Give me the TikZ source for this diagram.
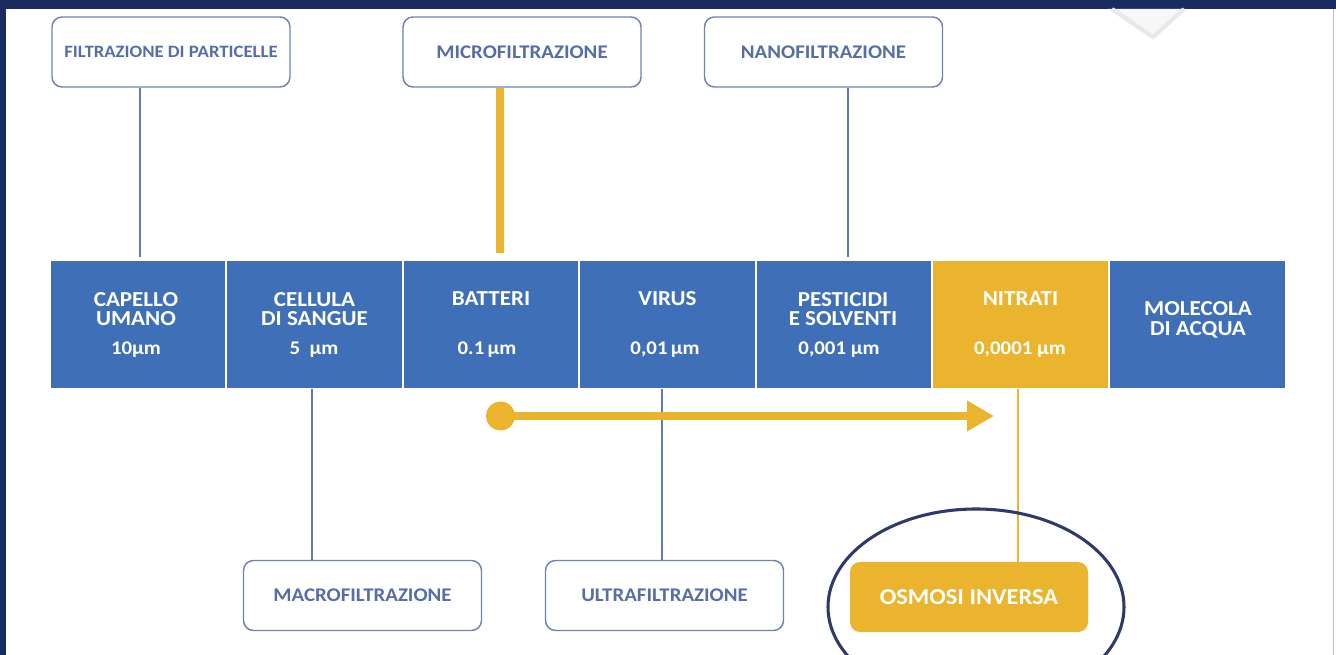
\documentclass[tikz,border=0pt]{standalone}
\usepackage{fontspec}
\newfontfamily\cf[FakeStretch=1.08]{Carlito}
\usetikzlibrary{arrows.meta}
\definecolor{navy}{RGB}{27,43,96}
\definecolor{cellblue}{RGB}{63,111,182}
\definecolor{yel}{RGB}{235,180,46}
\definecolor{bordc}{RGB}{112,130,175}
\definecolor{boxtxt}{RGB}{86,110,168}
\definecolor{linec}{RGB}{95,122,180}
\definecolor{ellc}{RGB}{46,58,110}
\begin{document}
\begin{tikzpicture}[x=0.75pt,y=-0.75pt,
  cell/.style={rectangle, fill=cellblue, inner sep=0pt, minimum width=130.875pt, minimum height=95.25pt},
  ttl/.style={anchor=base, inner sep=0pt, text=white, font=\cf\bfseries\fontsize{16pt}{14.5pt}\selectfont},
  ttltwo/.style={anchor=center, align=center, inner sep=0pt, text=white, font=\cf\bfseries\fontsize{16pt}{14.5pt}\selectfont},
  val/.style={anchor=base, inner sep=0pt, text=white, font=\cf\bfseries\fontsize{14.5pt}{16pt}\selectfont},
  fbox/.style={draw=bordc, line width=1.1pt, rounded corners=7.5pt, fill=white, minimum width=178.5pt, minimum height=52.5pt, inner sep=0pt, text=boxtxt, font=\cf\bfseries\fontsize{14.5pt}{16pt}\selectfont},
  obox/.style={fill=yel, rounded corners=7.5pt, minimum width=178.5pt, minimum height=52.5pt, inner sep=0pt, text=white, font=\cf\bfseries\fontsize{17pt}{19pt}\selectfont},
  conn/.style={draw=linec, line width=1.1pt},
  ycon/.style={draw=yel, line width=6.5pt},
  ythin/.style={draw=yel, line width=1.3pt}
]
\useasboundingbox (0,0) rectangle (1336,655);
\fill[white] (0,0) rectangle (1336,655);
% frame
\fill[navy] (0,0) rectangle (1336,9);
\fill[navy] (0,0) rectangle (6,655);
\draw[bordc!50, line width=0.8pt] (1333.5,9) -- (1333.5,655);
% faint chevron top right
\fill[black!3] (1108,9) -- (1186,9) -- (1153,40) -- cycle;
\draw[black!9, line width=3pt, line join=round] (1112,9) -- (1153,37) -- (1184,9);

% cells
\node[cell] (c1) at (138,325) {};
\node[cell] (c2) at (314.5,325) {};
\node[cell] (c3) at (491,325) {};
\node[cell] (c4) at (667.5,325) {};
\node[cell] (c5) at (844,325) {};
\node[cell, fill=yel] (c6) at (1020.5,325) {};
\node[cell] (c7) at (1197.5,325) {};

% cell texts
\node[ttltwo] (t1) at (136,309) {CAPELLO\\UMANO};
\node[val] (v1) at (136,355) {10µm};
\node[ttltwo] (t2) at (314.5,309) {CELLULA\\DI SANGUE};
\node[val] (v2) at (314,355) {5~~µm};
\node[ttl] (t3) at (491,306) {BATTERI};
\node[val] (v3) at (487,355) {0.1\,µm};
\node[ttl] (t4) at (667.5,306) {VIRUS};
\node[val] (v4) at (665,355) {0,01\,µm};
\node[ttltwo] (t5) at (843,309) {PESTICIDI\\E SOLVENTI};
\node[val] (v5) at (839,355) {0,001 µm};
\node[ttl] (t6) at (1020.5,306) {NITRATI};
\node[val] (v6) at (1020,355) {0,0001 µm};
\node[ttltwo] (t7) at (1198,320) {MOLECOLA\\DI ACQUA};

% boxes
\node[fbox, font=\cf\bfseries\fontsize{13pt}{15pt}\selectfont] (filt) at (171,52) {FILTRAZIONE DI PARTICELLE};
\node[fbox] (micro) at (522,52) {MICROFILTRAZIONE};
\node[fbox] (nano) at (823.5,52) {NANOFILTRAZIONE};
\node[fbox] (macro) at (362.5,595.5) {MACROFILTRAZIONE};
\node[fbox] (ultra) at (664.5,595.5) {ULTRAFILTRAZIONE};
\node[obox] (osm) at (969,597) {OSMOSI INVERSA};

% connectors
\coordinate (k1) at (140,257);
\coordinate (k2) at (312,389);
\coordinate (k3) at (500,253);
\coordinate (k4) at (662,389);
\coordinate (k5) at (848,257);
\coordinate (k6) at (1018,389);
\draw[conn] (k1) -- (k1 |- filt.south);
\draw[conn] (k2) -- (k2 |- macro.north);
\draw[ycon] (k3) -- (k3 |- micro.south);
\draw[conn] (k4) -- (k4 |- ultra.north);
\draw[conn] (k5) -- (k5 |- nano.south);
\draw[ythin] (k6) -- (k6 |- osm.north);

% arrow
\coordinate (as) at (486,416);
\coordinate (ae) at (994,416);
\draw[yel, line width=6.5pt, {Circle[length=21.75pt]}-{Triangle[length=20.25pt,width=21.75pt]}] (as) -- (ae);

% ellipse highlight
\begin{scope}
\clip (0,0) rectangle (1336,655);
\draw[ellc, line width=2.3pt] (976,607) ellipse [x radius=111pt, y radius=73.5pt];
\end{scope}
\end{tikzpicture}
\end{document}
